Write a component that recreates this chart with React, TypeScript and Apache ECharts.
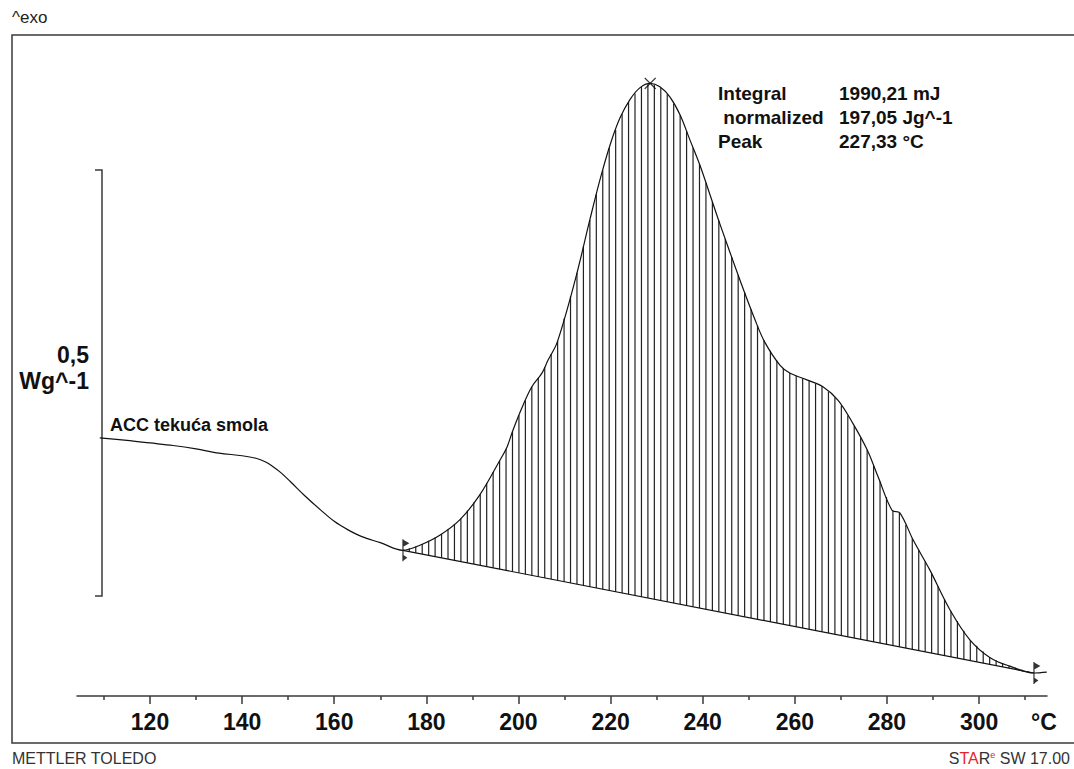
import React, { useEffect, useRef } from "react";
import * as echarts from "echarts";

// ---- data ----
const TEMPS = [109.1, 115, 120, 125, 130, 135, 140, 143, 145, 146.5, 148.2, 150.4, 153.6, 156.9, 160, 163, 166, 170, 174.9, 178.6, 183, 187.3, 191.6, 196, 197.5, 198.8, 200.8, 202.9, 205.1, 206.4, 208.4, 212.3, 215.5, 217.7, 219.9, 222, 224.2, 226.4, 228.6, 230.7, 232.9, 235.1, 237.2, 239.4, 241.6, 243.8, 248.1, 251.4, 253.5, 256.8, 258.9, 262.6, 266.1, 269.4, 272.6, 275.7, 278.1, 281.1, 282.8, 285.7, 289.3, 293.7, 298, 302.4, 306.7, 311.9, 314.7];
const HEAT_FLOW = [0.303, 0.3, 0.297, 0.294, 0.29, 0.285, 0.282, 0.279, 0.275, 0.27, 0.263, 0.252, 0.235, 0.219, 0.205, 0.195, 0.187, 0.18, 0.171, 0.177, 0.189, 0.207, 0.236, 0.277, 0.292, 0.312, 0.339, 0.363, 0.379, 0.394, 0.415, 0.488, 0.559, 0.606, 0.647, 0.678, 0.7, 0.714, 0.719, 0.715, 0.703, 0.682, 0.653, 0.623, 0.588, 0.553, 0.488, 0.441, 0.415, 0.388, 0.379, 0.371, 0.363, 0.347, 0.32, 0.289, 0.257, 0.218, 0.215, 0.183, 0.148, 0.101, 0.066, 0.045, 0.035, 0.027, 0.028];
const BASELINE_T = [174.9, 311.9];
const BASELINE_V = [0.171, 0.027];
const PEAK_T = 228.6;
const PEAK_V = 0.719;
const X_MAJOR = [120, 140, 160, 180, 200, 220, 240, 260, 280, 300];
const X_MINOR = [110, 130, 150, 170, 190, 210, 230, 250, 270, 290, 310];
const RESULT_NAMES = ["Integral", " normalized", "Peak"];
const RESULT_VALUES = ["1990,21 mJ", "197,05 Jg^-1", "227,33 °C"];
const SAMPLE_NAME = "ACC tekuća smola";

const X_MIN = 104.15;
const X_MAX = 314.75;
const Y_MIN = 0;
const Y_MAX = 0.7758;
const HATCH_STEP = 1.4;
const FONT = "'Liberation Sans', Arial, sans-serif";

function curveAt(t: number): number {
  for (let i = 0; i < TEMPS.length - 1; i++) {
    if (t >= TEMPS[i] && t <= TEMPS[i + 1]) {
      const f = (t - TEMPS[i]) / (TEMPS[i + 1] - TEMPS[i]);
      return HEAT_FLOW[i] + f * (HEAT_FLOW[i + 1] - HEAT_FLOW[i]);
    }
  }
  return HEAT_FLOW[HEAT_FLOW.length - 1];
}
function baseAt(t: number): number {
  const f = (t - BASELINE_T[0]) / (BASELINE_T[1] - BASELINE_T[0]);
  return BASELINE_V[0] + f * (BASELINE_V[1] - BASELINE_V[0]);
}

export default function App() {
  const ref = useRef<HTMLDivElement>(null);
  useEffect(() => {
    if (!ref.current) return;
    const chart = echarts.init(ref.current, undefined, { renderer: "svg" });

    const hatchData: number[][] = [];
    for (let t = BASELINE_T[0] + HATCH_STEP; t < BASELINE_T[1]; t += HATCH_STEP) {
      hatchData.push([t, curveAt(t)]);
    }

    const markerPath = "path://M0 0 L7 4 L0 8 Z M0 15 L5 18.5 L0 22 Z M0 0 L1.2 0 L1.2 22 L0 22 Z";

    const rowY = [93, 117, 141];
    const graphic: any[] = [
      {
        type: "polyline",
        shape: { points: [[1074, 35], [12, 35], [12, 743], [1074, 743]] },
        style: { stroke: "#3a3a3a", lineWidth: 1.5, fill: "none" },
        silent: true,
      },
      {
        type: "polyline",
        shape: { points: [[95, 170], [102, 170], [102, 596], [95, 596]] },
        style: { stroke: "#3a3a3a", lineWidth: 1.5, fill: "none" },
        silent: true,
      },
      { type: "text", x: 12, y: 17, style: { text: "^exo", font: `17px ${FONT}`, fill: "#222", verticalAlign: "middle" } },
      { type: "text", x: 89, y: 355, style: { text: "0,5", font: `bold 23px ${FONT}`, fill: "#111", align: "right", verticalAlign: "middle" } },
      { type: "text", x: 89, y: 381, style: { text: "Wg^-1", font: `bold 23px ${FONT}`, fill: "#111", align: "right", verticalAlign: "middle" } },
      { type: "text", x: 110, y: 425, style: { text: SAMPLE_NAME, font: `bold 18px ${FONT}`, fill: "#111", verticalAlign: "middle" } },
      { type: "text", x: 1031, y: 722, style: { text: "°C", font: `bold 23px ${FONT}`, fill: "#111", verticalAlign: "middle" } },
      { type: "text", x: 12, y: 758, style: { text: "METTLER TOLEDO", font: `16px ${FONT}`, fill: "#333", verticalAlign: "middle" } },
      {
        type: "text",
        x: 1070,
        y: 758,
        style: {
          text: "{d|S}{r|TA}{d|R}{s|e}{d| SW 17.00}",
          align: "right",
          verticalAlign: "middle",
          rich: {
            d: { font: `16px ${FONT}`, fill: "#333" },
            r: { font: `16px ${FONT}`, fill: "#e8222a" },
            s: { font: `9px ${FONT}`, fill: "#e8222a", verticalAlign: "top", padding: [0, 0, 6, 0] },
          },
        },
      },
    ];
    RESULT_NAMES.forEach((n, i) => {
      graphic.push({ type: "text", x: 718, y: rowY[i], style: { text: n, font: `bold 19px ${FONT}`, fill: "#111", verticalAlign: "middle" } });
      graphic.push({ type: "text", x: 839, y: rowY[i], style: { text: RESULT_VALUES[i], font: `bold 19px ${FONT}`, fill: "#111", verticalAlign: "middle" } });
    });

    chart.setOption({
      animation: false,
      backgroundColor: "#fff",
      grid: { left: 77, right: 27, top: 35, bottom: 73, containLabel: false },
      xAxis: [
        {
          type: "value",
          min: X_MIN,
          max: X_MAX,
          position: "bottom",
          axisLine: { show: true, lineStyle: { color: "#3a3a3a", width: 1.5 } },
          axisTick: { show: true, length: 8, customValues: X_MAJOR, lineStyle: { color: "#3a3a3a", width: 1.5 } },
          axisLabel: { show: true, customValues: X_MAJOR, margin: 14, color: "#111", fontSize: 23, fontWeight: "bold", fontFamily: FONT },
          splitLine: { show: false },
        },
        {
          type: "value",
          min: X_MIN,
          max: X_MAX,
          position: "bottom",
          axisLine: { show: false },
          axisTick: { show: true, length: 4, customValues: X_MINOR, lineStyle: { color: "#3a3a3a", width: 1.5 } },
          axisLabel: { show: false },
          splitLine: { show: false },
        },
      ],
      yAxis: { type: "value", min: Y_MIN, max: Y_MAX, show: false },
      graphic,
      series: [
        {
          type: "custom",
          name: "hatch",
          xAxisIndex: 0,
          data: hatchData,
          encode: { x: 0, y: 1 },
          silent: true,
          renderItem: (params: any, api: any) => {
            const t = api.value(0);
            const top = api.coord([t, curveAt(t)]);
            const bot = api.coord([t, baseAt(t)]);
            return {
              type: "line",
              shape: { x1: top[0], y1: top[1], x2: bot[0], y2: bot[1] },
              style: { stroke: "#222", lineWidth: 1.2 },
            };
          },
        },
        {
          type: "line",
          name: "baseline",
          data: BASELINE_T.map((t, i) => [t, BASELINE_V[i]]),
          showSymbol: false,
          lineStyle: { color: "#111", width: 1.2 },
          silent: true,
        },
        {
          type: "line",
          name: SAMPLE_NAME,
          data: TEMPS.map((t, i) => [t, HEAT_FLOW[i]]),
          smooth: 0.35,
          showSymbol: false,
          lineStyle: { color: "#111", width: 1.2 },
          silent: true,
        },
        {
          type: "scatter",
          name: "limits",
          data: BASELINE_T.map((t, i) => [t, BASELINE_V[i]]),
          symbol: markerPath,
          symbolSize: [7, 22],
          symbolOffset: [3, 0],
          itemStyle: { color: "#000" },
          silent: true,
        },
        {
          type: "scatter",
          name: "peak",
          data: [[PEAK_T, PEAK_V]],
          symbol: "path://M0 0 L10 10 M10 0 L0 10",
          symbolSize: 11,
          itemStyle: { color: "#000", borderColor: "#000", borderWidth: 1.3 },
          silent: true,
        },
      ],
    });
    return () => chart.dispose();
  }, []);
  return <div ref={ref} style={{ position: "absolute", left: 0, top: 0, width: 1074, height: 769 }} />;
}
